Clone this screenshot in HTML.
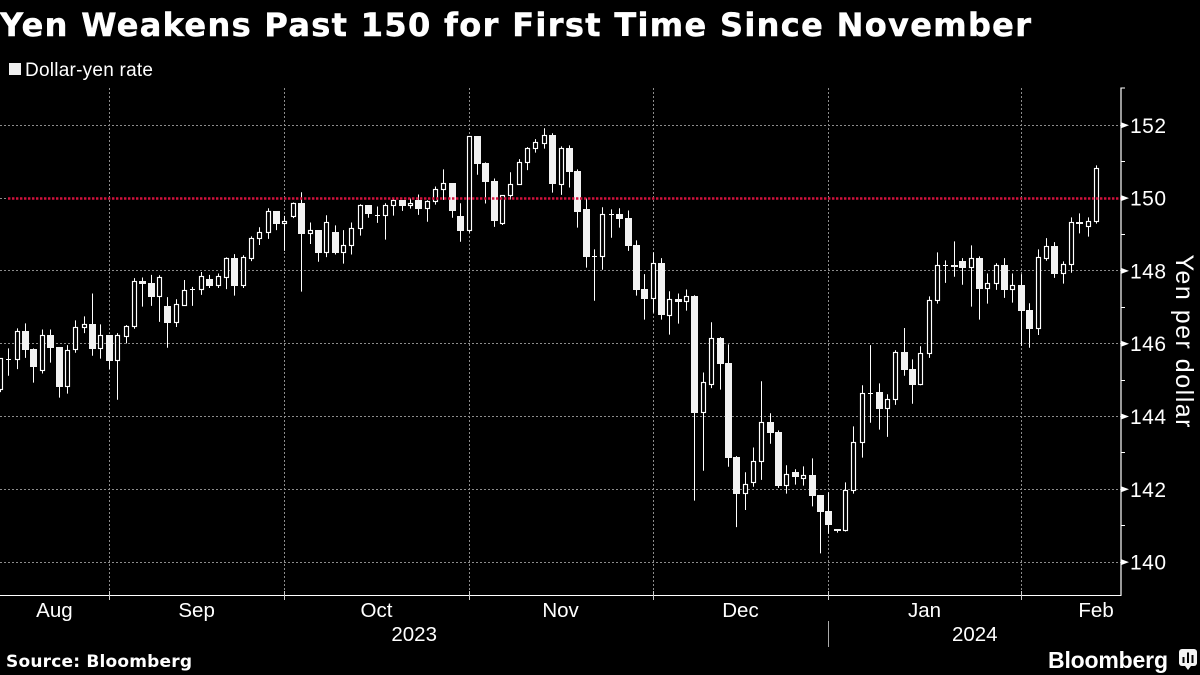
<!DOCTYPE html>
<html lang="en">
<head>
<meta charset="utf-8">
<title>Yen Weakens Past 150 for First Time Since November</title>
<style>
html,body{margin:0;padding:0;background:#000;}
body{width:1200px;height:675px;overflow:hidden;}
svg{display:block;}
text{fill:#fff;font-family:"DejaVu Sans","Liberation Sans",sans-serif;}
text.lib{font-family:"Liberation Sans",sans-serif;}
</style>
</head>
<body>
<svg id="chart" xmlns="http://www.w3.org/2000/svg" width="1200" height="675" viewBox="0 0 1200 675">
  <rect x="0" y="0" width="1200" height="675" fill="#000"/>
  <text x="0" y="36" font-size="32" font-weight="700" stroke="#fff" stroke-width="0.5" textLength="1031" lengthAdjust="spacing">Yen Weakens Past 150 for First Time Since November</text>
  <rect x="9" y="63" width="12" height="12" fill="#f0f0f0"/>
  <text class="lib" x="25" y="76" font-size="19" textLength="128" lengthAdjust="spacing">Dollar-yen rate</text>
  <g id="grid"></g>
  <g id="candles"></g>
  <g id="refline"></g>
  <g id="axes"></g>
  <text class="lib" transform="translate(1176,341) rotate(90)" font-size="25" text-anchor="middle" textLength="173" lengthAdjust="spacing">Yen per dollar</text>
  <text x="6" y="667" font-size="17" font-weight="700" textLength="186" lengthAdjust="spacing">Source: Bloomberg</text>
  <text class="lib" x="1048" y="668" font-size="23" font-weight="700" textLength="120" lengthAdjust="spacing">Bloomberg</text>
  <g>
    <rect x="1179" y="649" width="18" height="17" rx="3" fill="#f4f4f4"/>
    <polygon points="1185,666 1191,666 1188,670" fill="#f4f4f4"/>
    <rect x="1182.5" y="657" width="2" height="6" fill="#000"/>
    <rect x="1187" y="652.5" width="2" height="10.5" fill="#000"/>
    <rect x="1191.5" y="655" width="2" height="8" fill="#000"/>
  </g>
</svg>
<script>
const opens = [144.75,145.57,145.56,146.35,145.85,145.26,146.24,145.91,144.82,145.83,146.45,146.54,145.86,146.24,145.53,146.19,146.47,147.72,147.67,147.29,147.04,146.57,147.06,147.48,147.48,147.78,147.59,147.83,148.35,147.59,148.34,148.88,149.05,149.64,149.30,149.49,149.86,149.02,149.12,148.50,149.06,148.50,148.69,149.17,149.80,149.53,149.52,149.80,149.94,149.79,149.94,149.71,149.90,150.24,150.41,149.50,149.10,151.70,150.96,150.46,149.30,150.07,150.38,150.98,151.37,151.51,151.73,150.38,151.37,150.74,149.69,148.40,148.39,149.55,149.55,149.44,148.70,147.49,147.24,148.21,146.78,147.22,147.16,147.30,144.11,144.88,146.15,145.46,142.88,141.88,142.18,142.76,143.84,143.57,142.10,142.47,142.29,142.38,141.84,141.40,140.90,140.86,141.97,143.28,144.64,144.66,144.21,144.47,145.76,145.30,144.87,145.73,147.18,148.15,148.15,148.26,148.09,148.35,147.51,147.65,148.15,147.48,147.60,146.92,146.41,148.34,148.68,147.92,148.17,149.33,149.21,149.35];
const highs = [145.60,145.87,146.42,146.56,145.87,146.39,146.39,145.91,145.96,146.64,146.75,147.38,146.53,146.24,146.29,146.51,147.80,147.82,147.89,147.88,147.28,147.22,147.75,147.56,147.97,147.89,147.93,148.37,148.46,148.43,148.95,149.20,149.72,149.64,149.51,149.88,150.16,149.33,149.12,149.53,149.25,149.12,149.33,149.83,149.80,149.77,149.86,149.97,149.94,149.99,150.10,149.94,150.32,150.79,150.41,149.86,151.70,151.70,150.98,150.54,150.08,150.71,151.07,151.40,151.62,151.92,151.78,151.42,151.45,150.79,149.99,148.59,149.75,149.69,149.72,149.66,148.84,147.91,148.51,148.35,147.44,147.38,147.49,147.33,145.21,146.59,146.18,145.98,142.91,142.47,143.15,144.97,144.09,143.62,142.66,142.55,142.63,142.85,141.84,141.92,140.90,142.19,143.73,144.86,145.96,144.91,144.61,145.82,146.43,145.57,145.93,147.30,148.51,148.29,148.81,148.35,148.70,148.40,147.93,148.21,148.35,147.93,147.91,147.11,148.59,148.90,148.79,148.26,149.47,149.58,149.47,150.90];
const lows = [144.67,145.12,145.30,145.61,144.93,145.18,145.48,144.52,144.63,145.75,146.29,145.67,145.59,145.30,144.46,146.01,146.41,147.02,147.04,146.60,145.89,146.46,147.04,147.04,147.34,147.53,147.53,147.50,147.32,147.53,148.27,148.71,148.88,149.12,148.55,149.45,147.43,148.74,148.25,148.38,148.45,148.20,148.45,148.97,149.46,149.32,148.86,149.52,149.65,149.71,149.54,149.35,149.82,149.95,149.46,148.80,149.05,150.64,149.85,149.21,149.26,149.96,150.38,150.77,151.25,151.36,150.15,150.09,150.29,149.19,148.09,147.18,148.03,148.91,149.19,148.55,147.32,146.66,146.85,146.66,146.25,146.55,146.91,141.69,142.51,144.78,144.74,142.62,140.96,141.43,142.07,142.26,143.25,142.04,141.88,142.13,142.10,141.53,140.24,140.78,140.81,140.84,141.88,142.87,143.83,143.64,143.44,144.32,145.12,144.35,144.86,145.61,147.10,147.67,147.84,147.62,147.02,146.66,147.10,147.48,147.26,147.13,145.94,145.89,146.24,148.28,147.81,147.65,147.95,149.03,148.94,149.30];
const closes = [145.58,145.57,146.34,145.83,145.37,146.23,145.89,144.82,145.82,146.45,146.53,145.86,146.23,145.53,146.23,146.48,147.71,147.64,147.28,147.82,146.57,147.08,147.47,147.48,147.85,147.59,147.85,148.35,147.59,148.37,148.90,149.06,149.64,149.29,149.36,149.86,149.02,149.12,148.50,149.33,148.50,148.70,149.17,149.80,149.57,149.53,149.80,149.94,149.78,149.86,149.71,149.91,150.24,150.41,149.65,149.10,151.70,150.95,150.45,149.38,150.08,150.38,150.98,151.37,151.53,151.73,150.38,151.37,150.73,149.63,148.39,148.40,149.55,149.55,149.43,148.69,147.48,147.24,148.20,146.80,147.21,147.15,147.29,144.10,144.94,146.15,145.45,142.87,141.88,142.14,142.77,143.84,143.55,142.10,142.41,142.35,142.38,141.82,141.38,141.03,140.86,141.97,143.29,144.64,144.64,144.21,144.47,145.76,145.29,144.87,145.74,147.19,148.15,148.15,148.12,148.09,148.35,147.51,147.66,148.15,147.48,147.60,146.91,146.41,148.37,148.68,147.92,148.18,149.33,149.30,149.36,150.82];
const yTicks = [140,142,144,146,148,150,152];
const yMinorTicks = [141,143,145,147,149,151];
const monthLabels = ["Aug","Sep","Oct","Nov","Dec","Jan","Feb"];
const monthStartIndex = [0,13,34,56,78,99,122];
const monthEndIndex = [13,34,56,78,99,122,140];
const yearLabels = ["2023","2024"];
const yearStartIndex = [0,99];
const yearEndIndex = [99,134];
const referenceLevel = [150];

const NS = 'http://www.w3.org/2000/svg';
function xLinear(i){ return 8.367 * i; }
function xScale(i){ return Math.round(xLinear(i)) + 0.5; }
function yScale(v){ return 125.3 + (152 - v) * 36.4; }
function snap(y){ return Math.floor(y) + 0.5; }
function mk(parent, tag, attrs){
  const el = document.createElementNS(NS, tag);
  for (const k in attrs) el.setAttribute(k, attrs[k]);
  parent.appendChild(el);
  return el;
}
const grid = document.getElementById('grid');
const candles = document.getElementById('candles');
const refline = document.getElementById('refline');
const axes = document.getElementById('axes');
const GRID = '#8c8c8c';
const AXIS_R = 1121;
const AXIS_B = 595.5;
const AXIS_T = 88;

yTicks.forEach(function(t){
  const y = snap(yScale(t));
  const l = mk(grid, 'line', {x1:0, x2:AXIS_R, y1:y, y2:y, stroke:GRID, 'stroke-width':1, 'stroke-dasharray':'2 2'});
  
  
});
monthStartIndex.slice(1).forEach(function(s){
  const x = xScale(s);
  const l = mk(grid, 'line', {x1:x, x2:x, y1:AXIS_T, y2:AXIS_B, stroke:GRID, 'stroke-width':1, 'stroke-dasharray':'2 2'});
  
  
});

opens.forEach(function(o, i){
  const c = closes[i], h = highs[i], lo = lows[i];
  const x = xScale(i);
  const g = mk(candles, 'g', {});
  
  
  const top = yScale(Math.max(o, c)), bot = yScale(Math.min(o, c));
  mk(g, 'line', {x1:x, x2:x, y1:yScale(h), y2:yScale(lo), stroke:'#fff', 'stroke-width':1});
  if (c === o) {
    mk(g, 'line', {x1:x-2.5, x2:x+2.5, y1:snap(top), y2:snap(top), stroke:'#fff', 'stroke-width':1});
  } else if (c > o) {
    const t = snap(top), b = snap(bot);
    mk(g, 'rect', {x:x-2, y:t, width:4, height:Math.max(b-t, 1), fill:'#000', stroke:'#fff', 'stroke-width':1.15});
  } else {
    const t = Math.round(top), b = Math.round(bot);
    mk(g, 'rect', {x:x-3.5, y:t, width:7, height:Math.max(b-t, 2), fill:'#f2f2f2'});
  }
});

referenceLevel.forEach(function(v){
  const y = snap(yScale(v));
  const l = mk(refline, 'line', {x1:8, x2:AXIS_R, y1:y, y2:y, stroke:'#d2123e', 'stroke-width':2.4, 'stroke-dasharray':'2.4 1.6'});
  
  
});

const baseline = mk(axes, 'line', {x1:0, x2:AXIS_R+0.5, y1:AXIS_B, y2:AXIS_B, stroke:'#fff', 'stroke-width':1});


const vAxis = mk(axes, 'line', {x1:AXIS_R, x2:AXIS_R, y1:AXIS_T-0.5, y2:AXIS_B, stroke:'#fff', 'stroke-width':1.2});


const topTick = mk(axes, 'line', {x1:AXIS_R, x2:AXIS_R+4, y1:AXIS_T, y2:AXIS_T, stroke:'#fff', 'stroke-width':1});



yMinorTicks.forEach(function(t){
  const y = snap(yScale(t));
  const l = mk(axes, 'line', {x1:AXIS_R, x2:AXIS_R+4, y1:y, y2:y, stroke:'#fff', 'stroke-width':1});
  
  
});
yTicks.forEach(function(t){
  const y = yScale(t);
  const tri = mk(axes, 'polygon', {points:(AXIS_R)+','+(y-3)+' '+(AXIS_R+8)+','+y+' '+(AXIS_R)+','+(y+3), fill:'#fff'});
  
  
  const lab = mk(axes, 'text', {x:1130, y:y+7.5, 'font-size':21, textLength:36, lengthAdjust:'spacing', class:'lib'});
  lab.textContent = t;
  
  
});

monthLabels.forEach(function(m, i){
  const cx = (xLinear(monthStartIndex[i]) + xLinear(monthEndIndex[i])) / 2;
  const lab = mk(axes, 'text', {x:cx, y:617, 'font-size':20.5, 'text-anchor':'middle', class:'lib'});
  lab.textContent = m;
  
  
});
monthStartIndex.slice(1).forEach(function(s){
  const x = xScale(s);
  const l = mk(axes, 'line', {x1:x, x2:x, y1:591, y2:600, stroke:'#ccc', 'stroke-width':1});
  
  
});
yearLabels.forEach(function(yr, i){
  const cx = (xLinear(yearStartIndex[i]) + xLinear(yearEndIndex[i])) / 2;
  const lab = mk(axes, 'text', {x:cx, y:641, 'font-size':20.5, 'text-anchor':'middle', class:'lib'});
  lab.textContent = yr;
  
  
});
yearStartIndex.slice(1).forEach(function(s){
  const x = xScale(s);
  const l = mk(axes, 'line', {x1:x, x2:x, y1:621, y2:647, stroke:'#aaa', 'stroke-width':1});
  
  
});
</script>
</body>
</html>
